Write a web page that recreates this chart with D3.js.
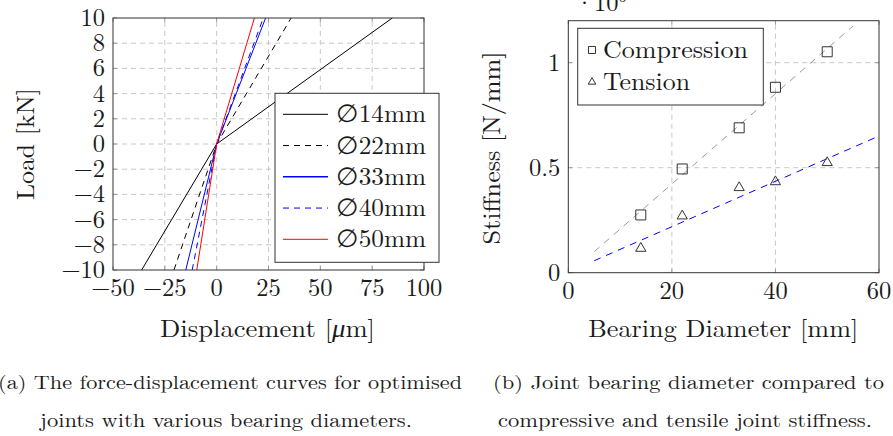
<!DOCTYPE html>
<html><head><meta charset="utf-8">
<script src="https://cdn.jsdelivr.net/npm/d3@7"></script>
<style>
html,body{margin:0;padding:0;background:#fff;}
svg{display:block;}
</style></head>
<body>
<script>
// ---------- data ----------
const diameterLabels = ["∅14mm","∅22mm","∅33mm","∅40mm","∅50mm"];
const loads = [-10, 0, 10];                               // kN
const dispAtMinus10 = [-36.2, -20.6, -14.9, -11.8, -9.6]; // µm at -10 kN
const dispAtPlus10  = [84.7, 35.9, 23.6, 22.5, 18.2];     // µm at +10 kN
const loadTicks = [-10,-8,-6,-4,-2,0,2,4,6,8,10];
const dispTicks = [-50,-25,0,25,50,75,100];

const diameters = [14, 22, 33, 40, 50];
const compressionStiffness = [0.275, 0.494, 0.69, 0.883, 1.052]; // ×10^6 N/mm
const tensionStiffness     = [0.116, 0.27, 0.405, 0.433, 0.524];
const compressionFitX = [5, 55], compressionFitY = [0.10, 1.175];
const tensionFitX = [5, 60], tensionFitY = [0.057, 0.651];
const diamTicks = [0, 20, 40, 60];
const stiffTicks = [0, 0.5, 1];

// ---------- styles ----------
const lineStyles = [
  {color:"#000", dash:null},
  {color:"#000", dash:"6,5"},
  {color:"#0000ff", dash:null},
  {color:"#0000ff", dash:"6,5"},
  {color:"#ff0000", dash:null}
];

const W = 893, H = 436;
const FONT = "'Latin Modern Roman', 'CMU Serif', 'Liberation Serif', serif";
const svg = d3.select("body").append("svg").attr("width", W).attr("height", H)
  .attr("font-family", FONT).attr("fill", "#1a1a1a");
const FS = 24.5;

function frame(g, x, y, xt, yt, xfmt, yfmt, xGrid, yGrid) {
  const [x0, x1] = x.range(), [y0, y1] = y.range();
  g.append("g").selectAll("line").data(xGrid).join("line")
    .attr("x1", d => x(d)).attr("x2", d => x(d)).attr("y1", y0).attr("y2", y1)
    .attr("stroke", "#c8c8c8").attr("stroke-dasharray", "5,4");
  g.append("g").selectAll("line").data(yGrid).join("line")
    .attr("y1", d => y(d)).attr("y2", d => y(d)).attr("x1", x0).attr("x2", x1)
    .attr("stroke", "#c8c8c8").attr("stroke-dasharray", "5,4");
  const tk = g.append("g").attr("stroke", "#999");
  xt.forEach(d => {
    tk.append("line").attr("x1", x(d)).attr("x2", x(d)).attr("y1", y0).attr("y2", y0 - 4);
    tk.append("line").attr("x1", x(d)).attr("x2", x(d)).attr("y1", y1).attr("y2", y1 + 4);
  });
  yt.forEach(d => {
    tk.append("line").attr("y1", y(d)).attr("y2", y(d)).attr("x1", x0).attr("x2", x0 + 4);
    tk.append("line").attr("y1", y(d)).attr("y2", y(d)).attr("x1", x1).attr("x2", x1 - 4);
  });
  g.append("g").selectAll("text").data(xt).join("text")
    .attr("x", d => x(d)).attr("y", y0 + 26).attr("text-anchor", "middle")
    .attr("font-size", FS).text(xfmt);
  g.append("g").selectAll("text").data(yt).join("text")
    .attr("x", x0 - 8).attr("y", d => y(d) + 8).attr("text-anchor", "end")
    .attr("font-size", FS).text(yfmt);
}
function border(g, x, y) {
  const [x0, x1] = x.range(), [y0, y1] = y.range();
  g.append("rect").attr("x", x0).attr("y", y1).attr("width", x1 - x0).attr("height", y0 - y1)
    .attr("fill", "none").attr("stroke", "#333").attr("stroke-width", 1);
}
const fmtNum = d => (d < 0 ? "\u2212" + Math.abs(d) : String(d));

// ---------- left chart ----------
const xL = d3.scaleLinear().domain([-50, 100]).range([113, 424]);
const yL = d3.scaleLinear().domain([-10, 10]).range([270, 18]);
const gL = svg.append("g");
frame(gL, xL, yL, dispTicks, loadTicks, fmtNum, fmtNum, [-25,0,25,50,75], [-8,-6,-4,-2,0,2,4,6,8]);

const lineGen = d3.line().x(d => xL(d[0])).y(d => yL(d[1]));
diameterLabels.forEach((lab, i) => {
  const pts = [[dispAtMinus10[i], loads[0]], [0, loads[1]], [dispAtPlus10[i], loads[2]]];
  gL.append("path").attr("d", lineGen(pts)).attr("fill", "none")
    .attr("stroke", lineStyles[i].color).attr("stroke-width", 1)
    .attr("stroke-dasharray", lineStyles[i].dash);
});
border(gL, xL, yL);

const lgL = gL.append("g");
lgL.append("rect").attr("x", 275).attr("y", 93.3).attr("width", 164).attr("height", 169)
  .attr("fill", "#fff").attr("stroke", "#333");
diameterLabels.forEach((lab, i) => {
  const yy = 114.3 + i * 31.25;
  lgL.append("line").attr("x1", 283).attr("x2", 328).attr("y1", yy).attr("y2", yy)
    .attr("stroke", lineStyles[i].color).attr("stroke-dasharray", lineStyles[i].dash)
    .attr("stroke-width", i === 2 ? 1.5 : 1);
  lgL.append("text").attr("x", 336).attr("y", yy + 8).attr("font-size", FS)
    .attr("textLength", 90).attr("lengthAdjust", "spacingAndGlyphs").text(lab);
});

const xtL = gL.append("text").attr("x", 267.5).attr("y", 337).attr("text-anchor", "middle")
  .attr("font-size", FS).attr("textLength", 215).attr("lengthAdjust", "spacingAndGlyphs");
xtL.append("tspan").text("Displacement [");
xtL.append("tspan").attr("font-style", "italic").text("μ");
xtL.append("tspan").text("m]");
gL.append("text").attr("transform", "translate(34,144) rotate(-90)").attr("text-anchor", "middle")
  .attr("font-size", FS).attr("textLength", 112).attr("lengthAdjust", "spacingAndGlyphs")
  .text("Load [kN]");

// ---------- right chart ----------
const xR = d3.scaleLinear().domain([0, 60]).range([568.3, 879]);
const yR = d3.scaleLinear().domain([0, 1.2]).range([272.7, 20.7]);
const gR = svg.append("g");
frame(gR, xR, yR, diamTicks, stiffTicks, d => String(d), d => String(d), [20, 40], [0.5, 1]);

const lineR = d3.line().x(d => xR(d[0])).y(d => yR(d[1]));
gR.append("path").attr("d", lineR(compressionFitX.map((v, i) => [v, compressionFitY[i]])))
  .attr("fill", "none").attr("stroke", "#999").attr("stroke-dasharray", "7,6");
gR.append("path").attr("d", lineR(tensionFitX.map((v, i) => [v, tensionFitY[i]])))
  .attr("fill", "none").attr("stroke", "#0000ff").attr("stroke-dasharray", "7,6");

const sq = d3.symbol().type(d3.symbolSquare).size(100);
const tri = d3.symbol().type(d3.symbolTriangle).size(45);
gR.append("g").selectAll("path").data(diameters).join("path")
  .attr("transform", (d, i) => `translate(${xR(d)},${yR(compressionStiffness[i])})`)
  .attr("d", sq()).attr("fill", "none").attr("stroke", "#333");
gR.append("g").selectAll("path").data(diameters).join("path")
  .attr("transform", (d, i) => `translate(${xR(d)},${yR(tensionStiffness[i])})`)
  .attr("d", tri()).attr("fill", "none").attr("stroke", "#333");
border(gR, xR, yR);

const lgR = gR.append("g");
lgR.append("rect").attr("x", 577.7).attr("y", 28.3).attr("width", 185.6).attr("height", 76.7)
  .attr("fill", "#fff").attr("stroke", "#333");
lgR.append("path").attr("transform", "translate(592,50)")
  .attr("d", d3.symbol().type(d3.symbolSquare).size(50)()).attr("fill", "none").attr("stroke", "#333");
lgR.append("path").attr("transform", "translate(592,82)")
  .attr("d", d3.symbol().type(d3.symbolTriangle).size(25)()).attr("fill", "none").attr("stroke", "#333");
lgR.append("text").attr("x", 603).attr("y", 58).attr("font-size", FS)
  .attr("textLength", 145).attr("lengthAdjust", "spacingAndGlyphs").text("Compression");
lgR.append("text").attr("x", 603).attr("y", 90).attr("font-size", FS)
  .attr("textLength", 87).attr("lengthAdjust", "spacingAndGlyphs").text("Tension");

const ex = gR.append("text").attr("x", 575).attr("y", 11).attr("font-size", FS);
ex.append("tspan").text("·10");
ex.append("tspan").attr("font-size", 16).attr("dy", -9).text("6");

gR.append("text").attr("x", 723.3).attr("y", 337).attr("text-anchor", "middle")
  .attr("font-size", FS).attr("textLength", 270).attr("lengthAdjust", "spacingAndGlyphs")
  .text("Bearing Diameter [mm]");
gR.append("text").attr("transform", "translate(500,148) rotate(-90)").attr("text-anchor", "middle")
  .attr("font-size", FS).attr("textLength", 193).attr("lengthAdjust", "spacingAndGlyphs")
  .text("Stiffness [N/mm]");

// ---------- captions ----------
const cap = svg.append("g");
function caption(x, y, len, t) {
  cap.append("text").attr("x", x).attr("y", y).attr("font-size", 19)
    .attr("textLength", len).attr("lengthAdjust", "spacingAndGlyphs").text(t);
}
caption(-2, 389, 464, "(a) The force-displacement curves for optimised");
caption(40, 427, 372, "joints with various bearing diameters.");
caption(493, 389, 391, "(b) Joint bearing diameter compared to");
caption(498, 427, 374, "compressive and tensile joint stiffness.");
</script>
</body></html>
